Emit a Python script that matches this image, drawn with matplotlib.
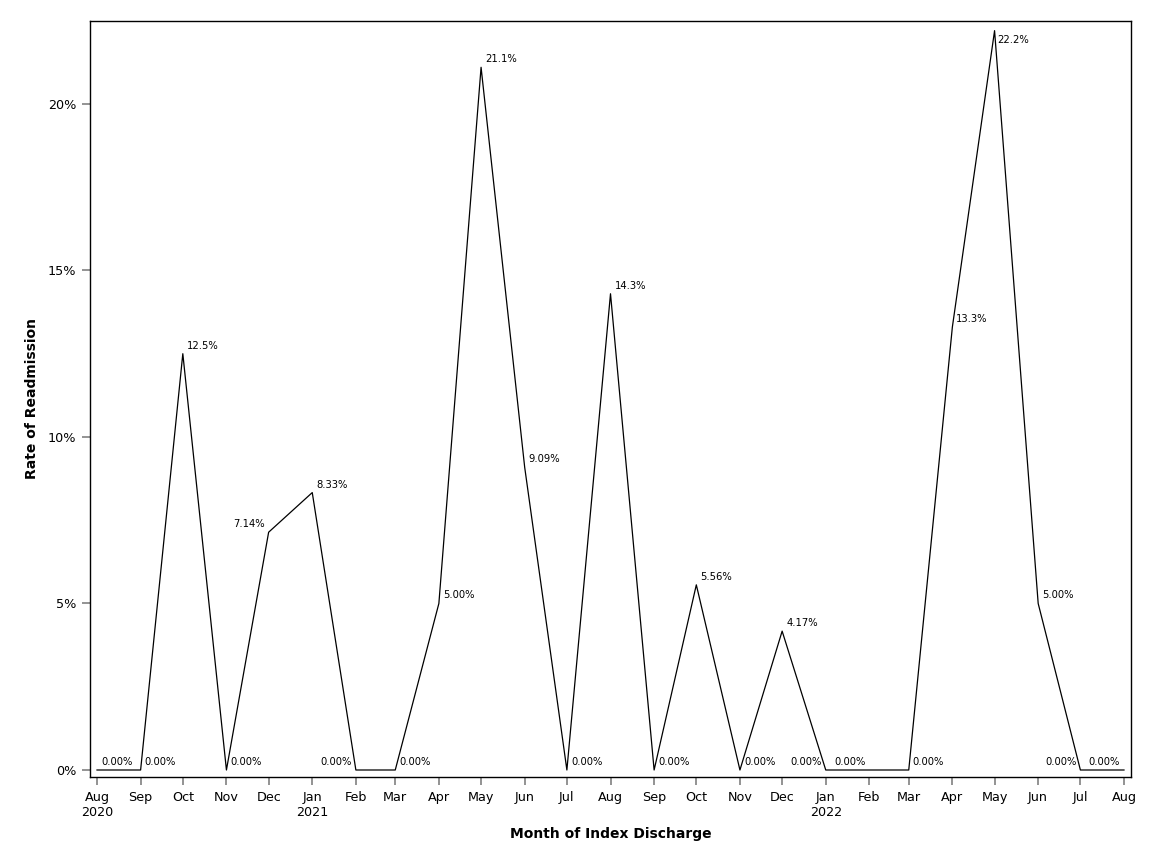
import datetime as dt

import matplotlib
matplotlib.use("Agg")
import matplotlib.pyplot as plt
from matplotlib.ticker import FuncFormatter

months = ["2020-08", "2020-09", "2020-10", "2020-11", "2020-12",
          "2021-01", "2021-02", "2021-03", "2021-04", "2021-05", "2021-06",
          "2021-07", "2021-08", "2021-09", "2021-10", "2021-11", "2021-12",
          "2022-01", "2022-02", "2022-03", "2022-04", "2022-05", "2022-06",
          "2022-07", "2022-08"]
rates = [0.00, 0.00, 12.5, 0.00, 7.14, 8.33, 0.00, 0.00, 5.00, 21.1, 9.09,
         0.00, 14.3, 0.00, 5.56, 0.00, 4.17, 0.00, 0.00, 0.00, 13.3, 22.2,
         5.00, 0.00, 0.00]
labels = ["0.00%", "0.00%", "12.5%", "0.00%", "7.14%", "8.33%", "0.00%",
          "0.00%", "5.00%", "21.1%", "9.09%", "0.00%", "14.3%", "0.00%",
          "5.56%", "0.00%", "4.17%", "0.00%", "0.00%", "0.00%", "13.3%",
          "22.2%", "5.00%", "0.00%", "0.00%"]
# where the point label sits: r = upper right, l = upper left, d = lower right
label_side = ["r", "r", "r", "r", "l", "r", "l", "r", "r", "r", "r", "r", "r",
              "r", "r", "r", "r", "l", "l", "r", "r", "d", "r", "l", "l"]

dates = [dt.datetime.strptime(m, "%Y-%m") for m in months]

fig = plt.figure(figsize=(11.52, 8.64), dpi=100)
ax = fig.add_axes([0.0781, 0.1007, 0.9037, 0.875])

ax.plot(dates, rates, color="black", linewidth=0.9)

for d, r, lab, side in zip(dates, rates, labels, label_side):
    if side == "l":
        off, ha = (-4, 8), "right"
    elif side == "d":
        off, ha = (3, -9), "left"
    else:
        off, ha = (4, 8), "left"
    ax.annotate(lab, (d, r), xytext=off, textcoords="offset pixels",
                ha=ha, va="center", fontsize=7.2, color="black")

ax.set_xlim(dt.datetime(2020, 7, 27), dt.datetime(2022, 8, 6))
ax.set_ylim(-0.21, 22.49)
ax.set_yticks([0, 5, 10, 15, 20])
ax.yaxis.set_major_formatter(FuncFormatter(lambda v, p: f"{v:.0f}%"))

ax.set_xticks(dates)
ax.set_xticklabels([d.strftime("%b") + ("\n" + d.strftime("%Y") if i == 0 or d.month == 1 else "")
                    for i, d in enumerate(dates)])

ax.tick_params(axis="both", direction="out", length=6, width=1.2, color="#808080",
               labelsize=9.2, pad=4)
for s in ax.spines.values():
    s.set_linewidth(1.0)
    s.set_color("black")

ax.set_xlabel("Month of Index Discharge", fontsize=10, fontweight="bold", labelpad=6)
ax.set_ylabel("Rate of Readmission", fontsize=10, fontweight="bold", labelpad=6)

fig.savefig("out.png", dpi=100)
